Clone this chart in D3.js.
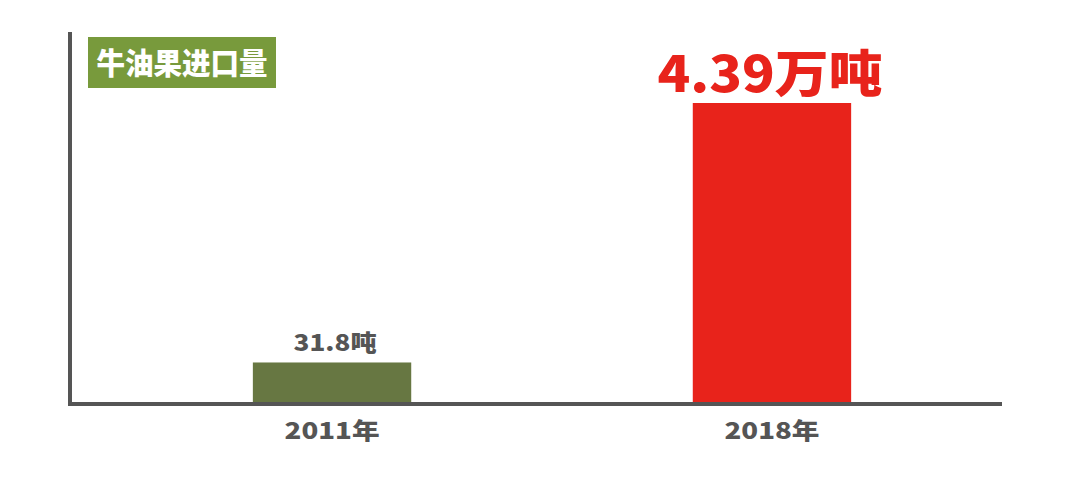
<!DOCTYPE html>
<html><head><meta charset="utf-8">
<script src="https://cdn.jsdelivr.net/npm/d3@7"></script>
<style>body{margin:0;background:#fff}svg{display:block}</style>
</head><body>
<script>
const categories = ["2011年", "2018年"];
const values = [31.8, 43900];
const valueLabels = ["31.8吨", "4.39万吨"];
const title = "牛油果进口量";

const W = 1080, H = 485;
const svg = d3.select("body").append("svg").attr("width", W).attr("height", H);
const font = "'Noto Sans CJK SC','Noto Sans',sans-serif";

const x = d3.scaleBand().domain(categories).range([87, 1017]).paddingInner(0.64).paddingOuter(0.377);
const y = d3.scaleLog().domain([10, 43900]).range([404, 103]);
const colors = ["#677742", "#e8231b"];

// bars
svg.selectAll("rect.bar").data(values).enter().append("rect")
  .attr("class", "bar")
  .attr("x", (d, i) => x(categories[i]))
  .attr("width", x.bandwidth())
  .attr("y", d => y(d))
  .attr("height", d => 404 - y(d))
  .attr("fill", (d, i) => colors[i]);

// axes
svg.append("line").attr("x1", 70).attr("x2", 70).attr("y1", 32).attr("y2", 406)
  .attr("stroke", "#555").attr("stroke-width", 4);
const xAxis = svg.append("g").attr("transform", "translate(0,404)")
  .call(d3.axisBottom(x).tickSize(0).tickPadding(15));
xAxis.select(".domain").remove();
svg.append("line").attr("x1", 68).attr("x2", 1002).attr("y1", 404).attr("y2", 404)
  .attr("stroke", "#555").attr("stroke-width", 4);
xAxis.selectAll("text").attr("font-family", font).attr("font-weight", 900)
  .attr("font-size", 23).attr("fill", "#555").attr("dy", "0.85em")
  .attr("textLength", 95).attr("lengthAdjust", "spacingAndGlyphs");

// value labels
svg.append("text").attr("x", x(categories[0]) + x.bandwidth() / 2 + 3).attr("y", y(values[0]) - 11)
  .attr("text-anchor", "middle").attr("font-family", font).attr("font-weight", 900)
  .attr("font-size", 23).attr("fill", "#555")
  .attr("textLength", 83).attr("lengthAdjust", "spacingAndGlyphs")
  .text(valueLabels[0]);
svg.append("text").attr("x", x(categories[1]) + x.bandwidth() / 2 - 2).attr("y", y(values[1]) - 11)
  .attr("text-anchor", "middle").attr("font-family", font).attr("font-weight", 900)
  .attr("font-size", 50).attr("fill", "#e8231b")
  .attr("textLength", 225).attr("lengthAdjust", "spacingAndGlyphs")
  .text(valueLabels[1]);

// title box
svg.append("rect").attr("x", 88).attr("y", 37).attr("width", 188).attr("height", 51).attr("fill", "#789a3c");
svg.append("text").attr("x", 182).attr("y", 74).attr("text-anchor", "middle")
  .attr("font-family", font).attr("font-weight", 900).attr("font-size", 30).attr("fill", "#fff")
  .attr("textLength", 171).attr("lengthAdjust", "spacingAndGlyphs")
  .text(title);
</script>
</body></html>
